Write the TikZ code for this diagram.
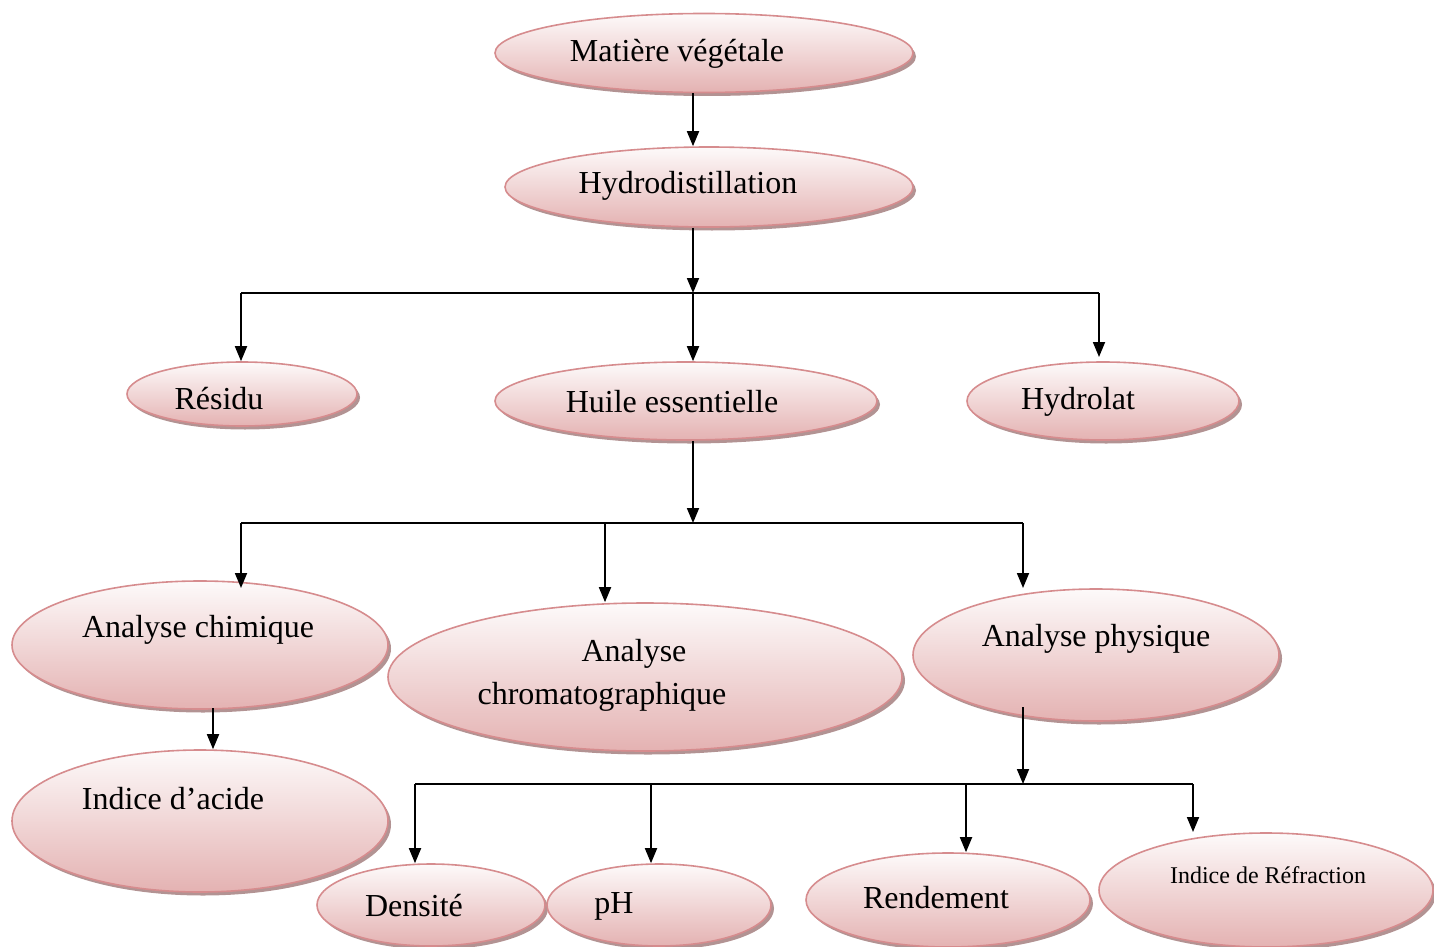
\documentclass[tikz,border=0pt]{standalone}
\usepackage{fontspec}
\setmainfont{Liberation Serif}
\usetikzlibrary{shapes.geometric,shadows,arrows.meta}
\definecolor{bord}{RGB}{214,140,142}
\definecolor{topc}{RGB}{253,250,250}
\definecolor{botc}{RGB}{228,178,178}
\definecolor{shad}{RGB}{170,135,135}
\tikzset{
  bub/.style={ellipse, draw=bord, line width=1.6pt, top color=topc, bottom color=botc,
    inner sep=0pt, drop shadow={shadow xshift=3pt, shadow yshift=-3.5pt, fill=shad, opacity=0.9}},
  lbl/.style={font=\fontsize{32}{38}\selectfont, inner sep=0pt, anchor=center, yshift=-2pt},
  lbls/.style={font=\fontsize{24}{29}\selectfont, inner sep=0pt, anchor=center, yshift=-1pt},
  arr/.style={line width=1.8pt, -{Triangle[width=12pt,length=15pt]}},
  ln/.style={line width=1.8pt}
}
\begin{document}
\begin{tikzpicture}[x=1pt,y=-1pt]
\useasboundingbox (0,0) rectangle (1434,947);
% ellipses
\node[bub, minimum width=418pt, minimum height=79pt] (mv) at (704,53) {};
\node[bub, minimum width=408pt, minimum height=80pt] (hd) at (709,187) {};
\node[bub, minimum width=230pt, minimum height=64pt] (rs) at (242,394) {};
\node[bub, minimum width=382pt, minimum height=78pt] (he) at (686,401) {};
\node[bub, minimum width=272pt, minimum height=78pt] (hy) at (1103,401) {};
\node[bub, minimum width=376pt, minimum height=128pt] (ac) at (200,645) {};
\node[bub, minimum width=514pt, minimum height=148pt] (chr) at (645,677) {};
\node[bub, minimum width=366pt, minimum height=132pt] (ap) at (1096,655) {};
\node[bub, minimum width=376pt, minimum height=142pt] (ia) at (200,821) {};
\node[bub, minimum width=228pt, minimum height=82pt] (de) at (431,905) {};
\node[bub, minimum width=224pt, minimum height=82pt] (ph) at (659,905) {};
\node[bub, minimum width=284pt, minimum height=94pt] (re) at (948,900) {};
\node[bub, minimum width=334pt, minimum height=114pt] (ir) at (1266,890) {};
% labels
\node[lbl] (mvT) at (677,52) {Matière végétale};
\node[lbl] (hdT) at (688,184) {Hydrodistillation};
\node[lbl] (rsT) at (219,397) {Résidu};
\node[lbl] (heT) at (672,400) {Huile essentielle};
\node[lbl] (hyT) at (1078,400) {Hydrolat};
\node[lbl] (acT) at (198,628) {Analyse chimique};
\node[lbl] (chrT1) at (634,652) {Analyse};
\node[lbl] (chrT2) at (602,695) {chromatographique};
\node[lbl] (apT) at (1096,637) {Analyse physique};
\node[lbl] (iaT) at (173,797) {Indice d’acide};
\node[lbl] (deT) at (414,904) {Densité};
\node[lbl] (phT) at (614,904) {pH};
\node[lbl] (reT) at (936,896) {Rendement};
\node[lbls] (irT) at (1268,874) {Indice de Réfraction};
% junctions
\coordinate (j1) at (693,293);
\coordinate (j1l) at (241,293);
\coordinate (j1r) at (1099,293);
\coordinate (j2) at (693,523);
\coordinate (j2l) at (241,523);
\coordinate (j2m) at (605,523);
\coordinate (j2r) at (1023,523);
\coordinate (j3) at (1023,784);
\coordinate (j3a) at (415,784);
\coordinate (j3b) at (651,784);
\coordinate (j3c) at (966,784);
\coordinate (j3d) at (1193,784);
\coordinate (apout) at (1023,707);
\coordinate (acout) at (213,708);
% connectors
\draw[arr] (mv.south -| j1) -- (hd.north -| j1);
\draw[arr] (hd.south -| j1) -- (j1);
\draw[ln] (j1l) -- (j1r);
\draw[arr] (j1l) -- (rs.north -| j1l);
\draw[arr] (j1) -- (he.north -| j1);
\draw[arr] (j1r) -- ++(0,64);
\draw[arr] (he.south -| j2) -- (j2);
\draw[ln] (j2l) -- (j2r);
\draw[arr] (j2l) -- ++(0,65);
\draw[arr] (j2m) -- (chr.north -| j2m);
\draw[arr] (j2r) -- ++(0,65);
\draw[arr] (acout) -- (ia.north -| acout);
\draw[arr] (apout) -- (j3);
\draw[ln] (j3a) -- (j3d);
\draw[arr] (j3a) -- (de.north -| j3a);
\draw[arr] (j3b) -- (ph.north -| j3b);
\draw[arr] (j3c) -- (re.north -| j3c);
\draw[arr] (j3d) -- ++(0,48);
\end{tikzpicture}
\end{document}
